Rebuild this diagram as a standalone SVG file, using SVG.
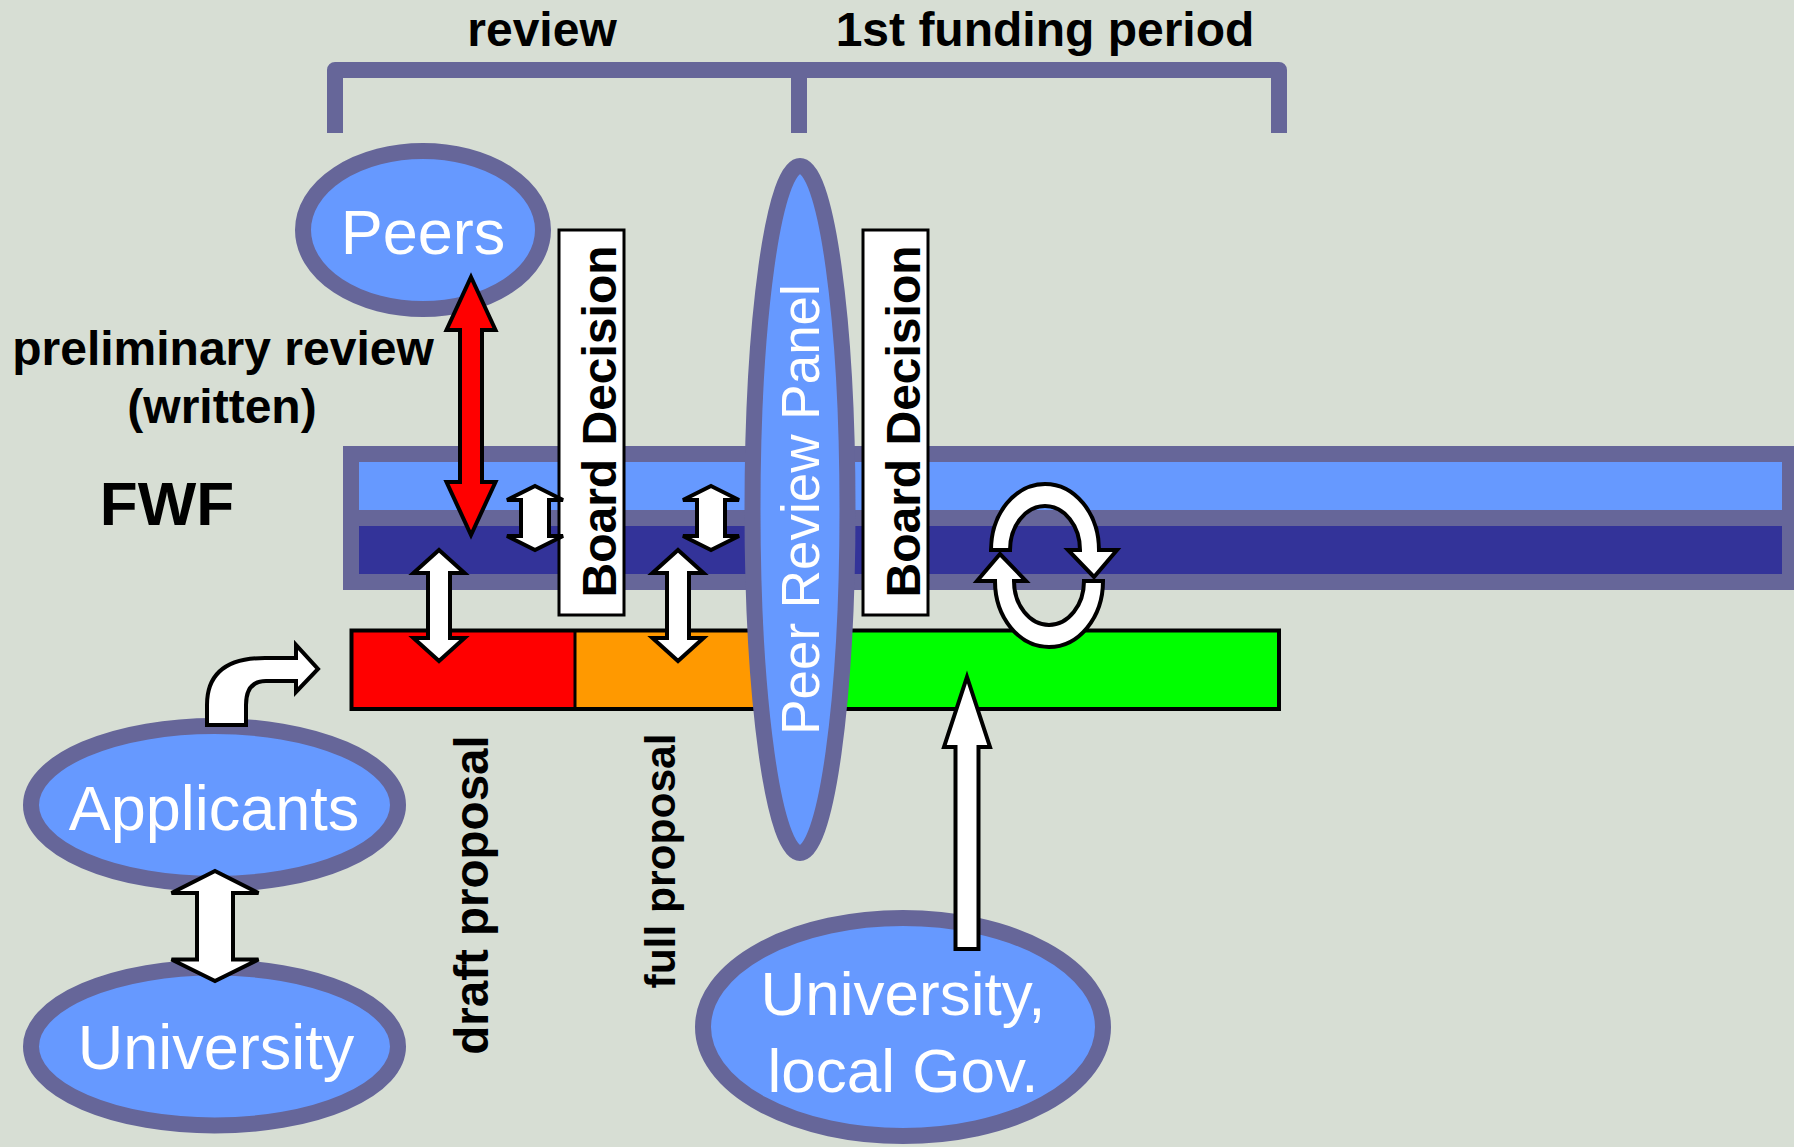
<svg xmlns="http://www.w3.org/2000/svg" width="1794" height="1147" viewBox="0 0 1794 1147">
<style>
.bg{fill:#D7DED4}
.oval{fill:#6699FF;stroke:#666699;stroke-width:16}
.wt{font-family:"Liberation Sans",Arial,sans-serif;fill:#FFFFFF;text-anchor:middle}
.bt{font-family:"Liberation Sans",Arial,sans-serif;font-weight:bold;fill:#000000;text-anchor:middle}
.box{fill:#FFFFFF;stroke:#000000;stroke-width:3}
.warrow{fill:#FFFFFF;stroke:#000000;stroke-width:4;stroke-linejoin:miter}
.rarrow{fill:#FF0000;stroke:#000000;stroke-width:4}
</style>
<rect class="bg" x="0" y="0" width="1794" height="1147"/>

<g id="timeline-bracket">
  <path d="M335 133 V70 H1279 V133 M799 70 V133" fill="none" stroke="#666699" stroke-width="16" stroke-linejoin="round"/>
  <text class="bt" x="542" y="46" font-size="48">review</text>
  <text class="bt" x="1045" y="46" font-size="48">1st funding period</text>
</g>

<g id="label-preliminary">
  <text class="bt" x="223" y="365" font-size="48">preliminary review</text>
  <text class="bt" x="222" y="423" font-size="48">(written)</text>
</g>

<g id="fwf">
  <text class="bt" x="167" y="525" font-size="62">FWF</text>
  <rect x="343" y="446" width="1451" height="144" fill="#666699"/>
  <rect x="359" y="462" width="1423" height="48" fill="#6699FF"/>
  <rect x="359" y="526" width="1423" height="48" fill="#333399"/>
</g>

<g id="proposal-bar">
  <rect x="351.5" y="630.5" width="223.5" height="78.5" fill="#FF0000"/>
  <rect x="575" y="630.5" width="205" height="78.5" fill="#FF9900"/>
  <rect x="780" y="630.5" width="499" height="78.5" fill="#00FF00"/>
  <rect x="351.5" y="630.5" width="927.5" height="78.5" fill="none" stroke="#000000" stroke-width="4"/>
  <line x1="575" y1="630.5" x2="575" y2="709" stroke="#000000" stroke-width="3"/>
  <text class="bt" transform="translate(487.5,895) rotate(-90)" font-size="47.5">draft proposal</text>
  <text class="bt" transform="translate(675,861) rotate(-90)" font-size="42.5">full proposal</text>
</g>

<g id="peer-review-panel">
  <ellipse class="oval" cx="800" cy="509.5" rx="47.5" ry="343.5"/>
  <text class="wt" transform="translate(819,509.5) rotate(-90)" font-size="53">Peer Review Panel</text>
</g>

<g id="board-decision-1">
  <rect class="box" x="559" y="230" width="65" height="385"/>
  <text class="bt" transform="translate(616,421.5) rotate(-90)" font-size="48">Board Decision</text>
</g>

<g id="board-decision-2">
  <rect class="box" x="863" y="230" width="65" height="385"/>
  <text class="bt" transform="translate(920,421.5) rotate(-90)" font-size="48">Board Decision</text>
</g>

<g id="peers">
  <ellipse class="oval" cx="423" cy="230" rx="120" ry="79"/>
  <text class="wt" x="423" y="254" font-size="63">Peers</text>
</g>

<g id="applicants">
  <ellipse class="oval" cx="214.5" cy="805" rx="183.5" ry="79"/>
  <text class="wt" x="214" y="830" font-size="63">Applicants</text>
</g>

<g id="university">
  <ellipse class="oval" cx="214.5" cy="1046.5" rx="183.5" ry="79"/>
  <text class="wt" x="216" y="1069" font-size="63">University</text>
</g>

<g id="university-local-gov">
  <ellipse class="oval" cx="903" cy="1027" rx="200" ry="109"/>
  <text class="wt" x="903" y="1015" font-size="62">University,</text>
  <text class="wt" x="903" y="1092" font-size="62">local Gov.</text>
</g>

<g id="connectors">
  <path class="rarrow" d="M471 277 L495.5 330 L482 330 L482 482 L495.5 482 L471 535 L446.5 482 L460 482 L460 330 L446.5 330 Z"/>
  <path class="warrow" d="M535 486 L563 500 L549 500 L549 536 L563 536 L535 550 L507 536 L521 536 L521 500 L507 500 Z"/>
  <path class="warrow" d="M711 486 L739 500 L725 500 L725 536 L739 536 L711 550 L683 536 L697 536 L697 500 L683 500 Z"/>
  <path class="warrow" d="M439 550 L464.5 573 L450 573 L450 638 L464.5 638 L439 661 L413.5 638 L428 638 L428 573 L413.5 573 Z"/>
  <path class="warrow" d="M678 550 L703.5 573 L689 573 L689 638 L703.5 638 L678 661 L652.5 638 L667 638 L667 573 L652.5 573 Z"/>
  <path class="warrow" d="M215 871 L258.5 893 L233 893 L233 959.5 L258.5 959.5 L215 981 L171.5 959.5 L197 959.5 L197 893 L171.5 893 Z"/>
  <path class="warrow" d="M967 677 L990 747 L978.5 747 L978.5 949 L955.5 949 L955.5 747 L944 747 Z"/>
  <path class="warrow" d="M207 725 L207 705 Q207 658 265 658 L296 658 L296 645 L318 669 L296 692 L296 681 L266 681 Q246 681 246 705 L246 725 Z"/>
  <g id="cycle">
    <path class="warrow" d="M991 550 A54 66 0 0 1 1099 550 L1117 550 L1094 577 L1068 550 L1080 550 A35 44 0 0 0 1010 550 Z"/>
    <path class="warrow" transform="rotate(180 1047 565.5)" d="M991 550 A54 66 0 0 1 1099 550 L1117 550 L1094 577 L1068 550 L1080 550 A35 44 0 0 0 1010 550 Z"/>
  </g>
</g>
</svg>
